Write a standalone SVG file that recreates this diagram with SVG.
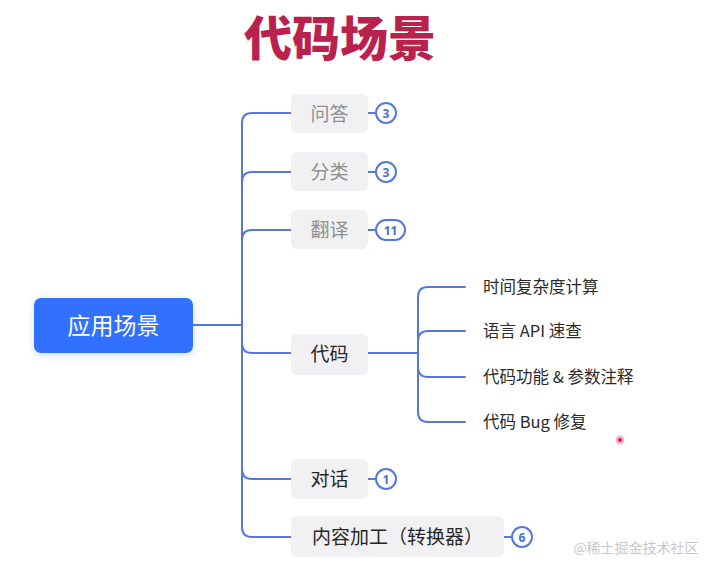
<svg xmlns="http://www.w3.org/2000/svg" width="720" height="573" viewBox="0 0 720 573">
<style>
.ln{fill:none;stroke:#5477e0;stroke-width:2;stroke-linecap:round}
.box{fill:#f1f1f3}
.t{font-family:"Noto Sans CJK SC","Noto Sans",sans-serif;font-size:19px;dominant-baseline:central;text-anchor:middle}
.g{fill:#8f8f8f}
.d{fill:#262626}
.leaf{font-family:"Noto Sans CJK SC","Noto Sans",sans-serif;font-size:16.5px;fill:#2a2a2a;dominant-baseline:central}
.bd{fill:#fff;stroke:#5477e0;stroke-width:2}
.bt{font-family:"Noto Sans","Liberation Sans",sans-serif;font-size:12px;font-weight:bold;fill:#4a6fd8;text-anchor:middle;dominant-baseline:central}
</style>
<defs>
<filter id="sh" x="-20%" y="-20%" width="140%" height="160%"><feDropShadow dx="0" dy="2" stdDeviation="3" flood-color="#3370ff" flood-opacity="0.25"/></filter>
</defs>
<rect width="720" height="573" fill="#fff"/>
<text x="340" y="35" font-family="Noto Sans CJK SC,sans-serif" font-size="48" font-weight="900" fill="#b8224c" text-anchor="middle" dominant-baseline="central">代码场景</text>
<g id="connectors">
<path class="ln" d="M193 325 H242"/>
<path class="ln" d="M242 123 V527"/>
<path class="ln" d="M242 123 Q242 113 252 113 H291"/>
<path class="ln" d="M242 182 Q242 172 252 172 H291"/>
<path class="ln" d="M242 240 Q242 230 252 230 H291"/>
<path class="ln" d="M242 343 Q242 353 252 353 H291"/>
<path class="ln" d="M242 469 Q242 479 252 479 H291"/>
<path class="ln" d="M242 527 Q242 537 252 537 H291"/>
<path class="ln" d="M368 113 H376 M368 172 H376 M368 230 H376 M368 479 H376 M504 537 H512"/>
<path class="ln" d="M368 353 H418"/>
<path class="ln" d="M418 297 V412"/>
<path class="ln" d="M418 297 Q418 287 428 287 H465"/>
<path class="ln" d="M418 341 Q418 331 428 331 H465"/>
<path class="ln" d="M418 367 Q418 377 428 377 H465"/>
<path class="ln" d="M418 412 Q418 422 428 422 H465"/>
</g>
<g id="root">
<rect x="34" y="298" width="159" height="55" rx="7" fill="#3370ff" filter="url(#sh)"/>
<text x="113.5" y="324" class="t" fill="#fff" style="font-size:23px">应用场景</text>
</g>
<g id="n-wenda">
<rect class="box" x="291" y="94" width="77" height="39" rx="6"/>
<text class="t g" x="329.5" y="112">问答</text>
<circle class="bd" cx="386" cy="113" r="10"/><text class="bt" x="386" y="113">3</text>
</g>
<g id="n-fenlei">
<rect class="box" x="291" y="152" width="77" height="39" rx="6"/>
<text class="t g" x="329.5" y="170">分类</text>
<circle class="bd" cx="386" cy="172" r="10"/><text class="bt" x="386" y="172">3</text>
</g>
<g id="n-fanyi">
<rect class="box" x="291" y="210" width="77" height="39" rx="6"/>
<text class="t g" x="329.5" y="228">翻译</text>
<rect class="bd" x="376" y="220" width="29" height="20" rx="10"/><text class="bt" x="390.5" y="230">11</text>
</g>
<g id="n-daima">
<rect class="box" x="291" y="334" width="77" height="41" rx="6"/>
<text class="t d" x="329.5" y="352">代码</text>
</g>
<g id="leaf1"><text class="leaf" x="483" y="286">时间复杂度计算</text></g>
<g id="leaf2"><text class="leaf" x="483" y="330">语言 API 速查</text></g>
<g id="leaf3"><text class="leaf" x="483" y="376">代码功能 &amp; 参数注释</text></g>
<g id="leaf4"><text class="leaf" x="483" y="421">代码 Bug 修复</text></g>
<g id="n-duihua">
<rect class="box" x="291" y="459" width="77" height="40" rx="6"/>
<text class="t d" x="329.5" y="477.5">对话</text>
<circle class="bd" cx="386" cy="479" r="10"/><text class="bt" x="386" y="479">1</text>
</g>
<g id="n-neirong">
<rect class="box" x="291" y="516" width="213" height="41" rx="6"/>
<text class="t d" x="397.5" y="535">内容加工（转换器）</text>
<circle class="bd" cx="522" cy="537" r="10"/><text class="bt" x="522" y="537">6</text>
</g>
<circle cx="620" cy="440" r="4.5" fill="#f7b6c4"/>
<circle cx="620" cy="440" r="2" fill="#d62050"/>
<text x="636" y="547" font-family="Noto Sans CJK SC,sans-serif" font-size="14" fill="#c8c8c8" text-anchor="middle" dominant-baseline="central">@稀土掘金技术社区</text>
</svg>
